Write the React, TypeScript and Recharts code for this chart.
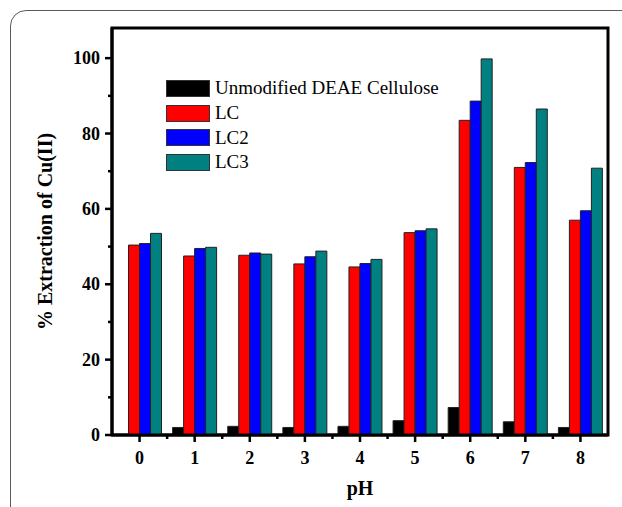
import { BarChart, Bar, XAxis, YAxis, Legend, ReferenceArea } from 'recharts';

const phLevels = ['0', '1', '2', '3', '4', '5', '6', '7', '8'];
const unmodified = [0, 2.0, 2.3, 2.0, 2.3, 3.8, 7.3, 3.5, 2.0];
const lc = [50.4, 47.5, 47.7, 45.4, 44.6, 53.7, 83.5, 71.0, 57.0];
const lc2 = [50.8, 49.5, 48.3, 47.3, 45.5, 54.2, 88.6, 72.3, 59.5];
const lc3 = [53.5, 49.8, 48.0, 48.8, 46.6, 54.7, 99.8, 86.5, 70.8];
const yTicks = [0, 10, 20, 30, 40, 50, 60, 70, 80, 90, 100];

const SERIES = [
  { key: 'unmodified', name: 'Unmodified DEAE Cellulose', color: '#000000' },
  { key: 'lc', name: 'LC', color: '#ff0000' },
  { key: 'lc2', name: 'LC2', color: '#0000ff' },
  { key: 'lc3', name: 'LC3', color: '#008080' },
];

const data = phLevels.map((ph, i) => ({
  ph,
  unmodified: unmodified[i],
  lc: lc[i],
  lc2: lc2[i],
  lc3: lc3[i],
}));

const FONT = '"Liberation Serif", "Times New Roman", serif';
const W = 622;
const H = 507;
const Y_MAX = 108;
const MARGIN = { top: 28, right: 14, bottom: 22, left: 0 };
const Y_AXIS_W = 112;
const BAND = (W - MARGIN.right - Y_AXIS_W) / phLevels.length;
const axisLine = { stroke: '#000', strokeWidth: 3 };

function YTick(props: any) {
  const { x, y, payload } = props;
  const major = payload.value % 20 === 0;
  return (
    <g>
      <line x1={x} x2={x - (major ? 7 : 4)} y1={y} y2={y} stroke="#000" strokeWidth={2.5} />
      {major && (
        <text x={x - 12} y={y + 6} textAnchor="end" fontSize={18} fontWeight="bold" fontFamily={FONT} fill="#000">
          {payload.value}
        </text>
      )}
    </g>
  );
}

function XTick(props: any) {
  const { x, y, payload, index } = props;
  return (
    <g>
      <line x1={x} x2={x} y1={y} y2={y + 7} stroke="#000" strokeWidth={2.5} />
      {index < phLevels.length - 1 && (
        <line x1={x + BAND / 2} x2={x + BAND / 2} y1={y} y2={y + 4} stroke="#000" strokeWidth={2.5} />
      )}
      <text x={x} y={y + 29} textAnchor="middle" fontSize={18} fontWeight="bold" fontFamily={FONT} fill="#000">
        {payload.value}
      </text>
    </g>
  );
}

const renderYLabel = (props: any) => {
  const { viewBox } = props;
  const cx = viewBox.x + 45;
  const cy = viewBox.y + viewBox.height / 2;
  return (
    <text
      x={cx}
      y={cy}
      transform={`rotate(-90, ${cx}, ${cy})`}
      textAnchor="middle"
      dominantBaseline="central"
      fontSize={20}
      fontWeight="bold"
      fontFamily={FONT}
      fill="#000"
    >
      % Extraction of Cu(II)
    </text>
  );
};

const renderXLabel = (props: any) => {
  const { viewBox } = props;
  return (
    <text
      x={viewBox.x + viewBox.width / 2}
      y={viewBox.y + 60}
      textAnchor="middle"
      fontSize={20}
      fontWeight="bold"
      fontFamily={FONT}
      fill="#000"
    >
      pH
    </text>
  );
};

const renderLegend = () => (
  <div style={{ fontFamily: FONT, fontSize: 19, color: '#000' }}>
    {SERIES.map((s) => (
      <div key={s.key} style={{ display: 'flex', alignItems: 'center', height: 24.7 }}>
        <span
          style={{
            width: 44,
            height: 17,
            background: s.color,
            border: '1px solid #333',
            boxSizing: 'border-box',
            display: 'inline-block',
          }}
        />
        <span style={{ marginLeft: 5, whiteSpace: 'nowrap' }}>{s.name}</span>
      </div>
    ))}
  </div>
);

export default function App() {
  return (
    <div style={{ position: 'absolute', left: 0, top: 0, width: W, height: H, overflow: 'hidden', background: '#fff' }}>
      <div style={{ position: 'absolute', left: 0, top: 0 }}>
        <BarChart width={W} height={H} data={data} margin={MARGIN} barCategoryGap="10%" barGap={0}>
          <XAxis
            dataKey="ph"
            height={50}
            interval={0}
            tickSize={0}
            tickMargin={0}
            tickLine={false}
            axisLine={axisLine}
            tick={<XTick />}
            label={{ content: renderXLabel }}
          />
          <YAxis
            width={Y_AXIS_W}
            domain={[0, Y_MAX]}
            ticks={yTicks}
            interval={0}
            tickSize={0}
            tickMargin={0}
            tickLine={false}
            axisLine={axisLine}
            tick={<YTick />}
            label={{ content: renderYLabel }}
          />
          <Legend
            layout="vertical"
            align="center"
            verticalAlign="middle"
            content={renderLegend}
            wrapperStyle={{ left: 166, top: 76, width: 'auto' }}
          />
          {SERIES.map((s) => (
            <Bar
              key={s.key}
              dataKey={s.key}
              name={s.name}
              fill={s.color}
              stroke="#222"
              strokeWidth={1}
              isAnimationActive={false}
            />
          ))}
          <ReferenceArea y1={0} y2={Y_MAX} fill="none" stroke="#000" strokeWidth={3} ifOverflow="visible" />
        </BarChart>
      </div>
      <div
        style={{
          position: 'absolute',
          left: 10,
          top: 10,
          width: 660,
          height: 560,
          border: '1.5px solid #5a5a5a',
          borderRadius: 16,
          pointerEvents: 'none',
        }}
      />
    </div>
  );
}
